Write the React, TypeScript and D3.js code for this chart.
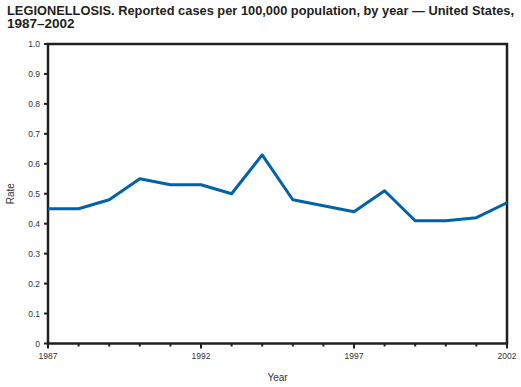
import * as d3 from "d3";
import { useEffect, useRef } from "react";

const years = [1987, 1988, 1989, 1990, 1991, 1992, 1993, 1994, 1995, 1996, 1997, 1998, 1999, 2000, 2001, 2002];
const rates = [0.45, 0.45, 0.48, 0.55, 0.53, 0.53, 0.50, 0.63, 0.48, 0.46, 0.44, 0.51, 0.41, 0.41, 0.42, 0.47];
const yTicks = [0, 0.1, 0.2, 0.3, 0.4, 0.5, 0.6, 0.7, 0.8, 0.9, 1.0];
const xLabelYears = [1987, 1992, 1997, 2002];
const titleLines = [
    "LEGIONELLOSIS. Reported cases per 100,000 population, by year \u2014 United States,",
    "1987\u20132002",
];

const App = () => {
    const ref = useRef<SVGSVGElement>(null);

    useEffect(() => {
        const svg = d3.select(ref.current);
        svg.selectChildren().remove();

        const width = 521;
        const height = 387;
        const margin = { top: 44, right: 14, bottom: 44, left: 48 };
        const axisColor = "#231f20";
        const lineColor = "#0062a8";
        const font = "'Liberation Sans', Arial, sans-serif";

        const x = d3.scaleLinear()
            .domain([1987, 2002])
            .range([margin.left, width - margin.right]);

        const y = d3.scaleLinear()
            .domain([0, 1])
            .range([height - margin.bottom + 0.5, margin.top]);

        // title
        svg.append("g")
            .selectAll("text")
            .data(titleLines)
            .join("text")
            .attr("x", 7)
            .attr("y", (d, i) => 15 + i * 13)
            .attr("font-family", font)
            .attr("font-weight", "bold")
            .attr("font-size", 13.5)
            .attr("fill", "#231f20")
            .attr("textLength", (d, i) => i === 0 ? 507 : null)
            .attr("lengthAdjust", "spacingAndGlyphs")
            .text(d => d);

        // y ticks + labels
        const yAxis = svg.append("g");
        yAxis.selectAll("line")
            .data(yTicks)
            .join("line")
            .attr("x1", margin.left - 4)
            .attr("x2", margin.left)
            .attr("y1", d => y(d))
            .attr("y2", d => y(d))
            .attr("stroke", axisColor)
            .attr("stroke-width", 2);
        yAxis.selectAll("text")
            .data(yTicks)
            .join("text")
            .attr("x", margin.left - 8)
            .attr("y", d => y(d) + 3)
            .attr("text-anchor", "end")
            .attr("font-family", font)
            .attr("font-size", 8.5)
            .attr("fill", "#333")
            .text(d => d === 0 ? "0" : d3.format(".1f")(d));

        // x ticks
        const xAxis = svg.append("g");
        xAxis.selectAll("line")
            .data(years)
            .join("line")
            .attr("x1", d => x(d))
            .attr("x2", d => x(d))
            .attr("y1", y(0))
            .attr("y2", d => y(0) + (xLabelYears.includes(d) ? 5 : 3))
            .attr("stroke", axisColor)
            .attr("stroke-width", 2);
        xAxis.selectAll("text")
            .data(xLabelYears)
            .join("text")
            .attr("x", d => x(d))
            .attr("y", y(0) + 15)
            .attr("text-anchor", "middle")
            .attr("font-family", font)
            .attr("font-size", 8.5)
            .attr("fill", "#333")
            .text(d => d);

        // frame
        svg.append("rect")
            .attr("x", x(1987))
            .attr("y", y(1))
            .attr("width", x(2002) - x(1987))
            .attr("height", y(0) - y(1))
            .attr("fill", "none")
            .attr("stroke", axisColor)
            .attr("stroke-width", 2.5);

        // axis titles
        svg.append("text")
            .attr("transform", `translate(14, ${(y(0) + y(1)) / 2}) rotate(-90)`)
            .attr("text-anchor", "middle")
            .attr("font-family", font)
            .attr("font-size", 10)
            .attr("fill", "#333")
            .text("Rate");

        svg.append("text")
            .attr("x", (x(1987) + x(2002)) / 2)
            .attr("y", 381)
            .attr("text-anchor", "middle")
            .attr("font-family", font)
            .attr("font-size", 10)
            .attr("fill", "#333")
            .text("Year");

        // the line
        const data = years.map((yr, i) => ({ year: yr, value: rates[i] }));
        svg.append("path")
            .datum(data)
            .attr("fill", "none")
            .attr("stroke", lineColor)
            .attr("stroke-width", 3)
            .attr("stroke-linejoin", "round")
            .attr("d", d3.line<{ year: number; value: number }>()
                .x(d => x(d.year))
                .y(d => y(d.value)));
    }, []);

    return (
        <svg ref={ref} width={521} height={387}
            style={{ position: "absolute", left: 0, top: 0, background: "#fff" }} />
    );
};

export default App;
